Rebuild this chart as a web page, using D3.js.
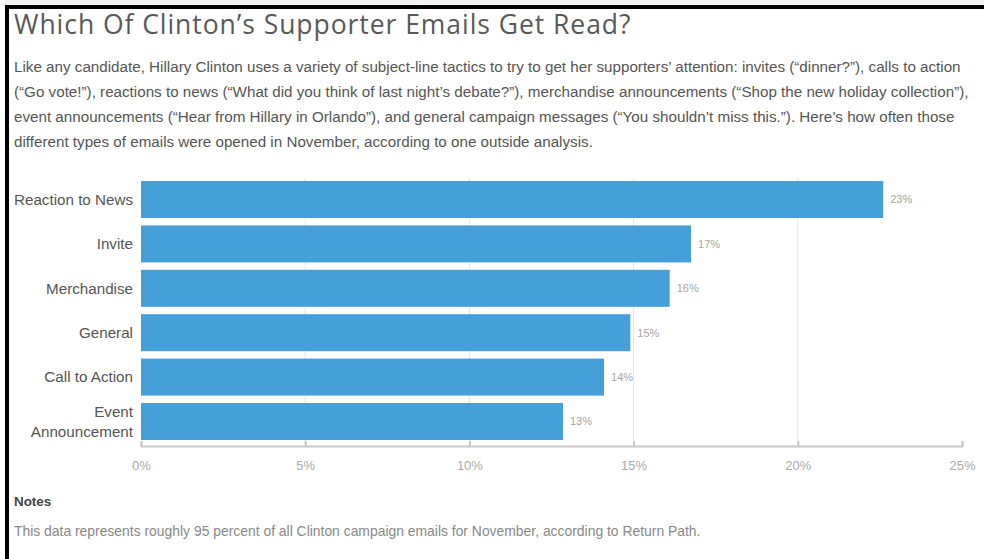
<!DOCTYPE html>
<html>
<head>
<meta charset="utf-8">
<script src="https://cdn.jsdelivr.net/npm/d3@7"></script>
<style>
  body { margin: 0; background: #fff; }
  svg { display: block; }
</style>
</head>
<body>
<svg id="chart"></svg>
<script>
// Data: open rates by email type (percent)
const categories = ["Reaction to News", "Invite", "Merchandise", "General", "Call to Action", "Event Announcement"];
const openRates = [22.6, 16.75, 16.1, 14.9, 14.1, 12.85];
const rateLabels = ["23%", "17%", "16%", "15%", "14%", "13%"];
const tickValues = [0, 5, 10, 15, 20, 25];

const title = "Which Of Clinton\u2019s Supporter Emails Get Read?";
const intro = [
    "Like any candidate, Hillary Clinton uses a variety of subject-line tactics to try to get her supporters\u2019 attention: invites (\u201cdinner?\u201d), calls to action",
    "(\u201cGo vote!\u201d), reactions to news (\u201cWhat did you think of last night\u2019s debate?\u201d), merchandise announcements (\u201cShop the new holiday collection\u201d),",
    "event announcements (\u201cHear from Hillary in Orlando\u201d), and general campaign messages (\u201cYou shouldn\u2019t miss this.\u201d). Here\u2019s how often those",
    "different types of emails were opened in November, according to one outside analysis."
];
const noteText = "This data represents roughly 95 percent of all Clinton campaign emails for November, according to Return Path.";

const width = 984;
const height = 559;
const margin = { top: 181, right: 22, bottom: 119, left: 141 };

const svg = d3.select("#chart")
    .attr("width", width)
    .attr("height", height)
    .style("font-family", "'Liberation Sans', Arial, sans-serif");

// frame (black rule top and left)
svg.append("rect").attr("x", 5).attr("y", 0).attr("width", width).attr("height", 5).attr("fill", "#f3f3f3");
svg.append("path")
    .attr("d", `M7,${height} V7 H${width}`)
    .attr("fill", "none")
    .attr("stroke", "#000")
    .attr("stroke-width", 4);

// Title
svg.append("text")
    .attr("x", 14)
    .attr("y", 34)
    .style("font-family", "'Open Sans', sans-serif")
    .style("font-size", "26.5px")
    .style("letter-spacing", "0.95px")
    .style("fill", "#595959")
    .text(title);

// Intro paragraph
svg.append("g").selectAll("text")
    .data(intro)
    .enter()
    .append("text")
    .attr("x", 14)
    .attr("y", (d, i) => 72 + i * 25)
    .style("font-size", "15.2px")
    .style("fill", "#555")
    .text(d => d);

// Scales
const x = d3.scaleLinear()
    .domain([0, 25])
    .range([margin.left, width - margin.right]);

const y = d3.scaleBand()
    .domain(categories)
    .range([181, 440])
    .paddingInner(0.167);

const axisY = 446;

// Gridlines
svg.append("g").selectAll("line")
    .data(tickValues.slice(1, -1))
    .enter()
    .append("line")
    .attr("x1", d => x(d))
    .attr("x2", d => x(d))
    .attr("y1", 178)
    .attr("y2", axisY)
    .attr("stroke", "#e6e6e6")
    .attr("stroke-width", 1);

// Bars
svg.selectAll(".bar")
    .data(categories)
    .enter()
    .append("rect")
    .attr("class", "bar")
    .attr("x", x(0))
    .attr("y", d => y(d))
    .attr("width", (d, i) => x(openRates[i]) - x(0))
    .attr("height", y.bandwidth())
    .attr("fill", "#479fd9");

// Value labels
svg.selectAll(".label")
    .data(categories)
    .enter()
    .append("text")
    .attr("x", (d, i) => x(openRates[i]) + 7)
    .attr("y", d => y(d) + y.bandwidth() / 2)
    .attr("dy", "0.35em")
    .style("font-size", "11px")
    .style("fill", "#a5a5a5")
    .text((d, i) => rateLabels[i]);

// Category labels (wrap the long one)
const catLabels = svg.append("g").selectAll("text")
    .data(categories)
    .enter()
    .append("text")
    .attr("text-anchor", "end")
    .style("font-size", "15.2px")
    .style("fill", "#555");

catLabels.each(function(d) {
    const words = d === "Event Announcement" ? ["Event", "Announcement"] : [d];
    const cy = y(d) + y.bandwidth() / 2;
    const t = d3.select(this);
    words.forEach((w, j) => {
        t.append("tspan")
            .attr("x", 133)
            .attr("y", cy + (j - (words.length - 1) / 2) * 20)
            .attr("dy", "0.35em")
            .text(w);
    });
});

// X axis
const xAxis = svg.append("g")
    .attr("transform", `translate(0,${axisY})`)
    .call(d3.axisBottom(x)
        .tickValues(tickValues)
        .tickSizeInner(-5)
        .tickSizeOuter(-5)
        .tickPadding(15)
        .tickFormat(d => d + "%"));

xAxis.selectAll("path, line").attr("stroke", "#c8c8c8").attr("stroke-width", 2);
xAxis.selectAll("text")
    .style("font-size", "13px")
    .style("font-family", "'Liberation Sans', Arial, sans-serif")
    .style("fill", "#aaa");

// Notes
svg.append("text")
    .attr("x", 14)
    .attr("y", 506)
    .style("font-size", "13.4px")
    .style("font-weight", "bold")
    .style("fill", "#444")
    .text("Notes");

svg.append("text")
    .attr("x", 14)
    .attr("y", 536)
    .style("font-size", "13.9px")
    .style("fill", "#888")
    .text(noteText);
</script>
</body>
</html>
